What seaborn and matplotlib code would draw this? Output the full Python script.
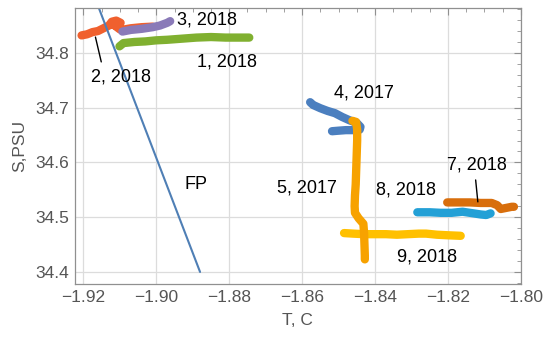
"""
plot.py - T-S diagram of drifting buoy tracks with freezing point line.
"""

import numpy as np
import matplotlib
matplotlib.use("Agg")
import matplotlib.pyplot as plt
from matplotlib.ticker import MultipleLocator
import seaborn as sns

# ---- data (T in C, S in PSU) ----
t_1 = [-1.9101, -1.9090, -1.9060, -1.9030, -1.9000, -1.8970, -1.8930, -1.8890,
       -1.8850, -1.8810, -1.8775, -1.8745]
s_1 = [34.812, 34.818, 34.820, 34.821, 34.823, 34.824, 34.826, 34.828,
       34.829, 34.828, 34.828, 34.828]

t_2 = [-1.9205, -1.9190, -1.9175, -1.9160, -1.9145, -1.9130, -1.9122, -1.9110,
       -1.9098, -1.9105, -1.9118, -1.9100, -1.9095, -1.9070, -1.9040, -1.9010]
s_2 = [34.832, 34.834, 34.838, 34.840, 34.845, 34.850, 34.857, 34.859,
       34.855, 34.848, 34.852, 34.843, 34.842, 34.845, 34.847, 34.848]

t_3 = [-1.9093, -1.9070, -1.9040, -1.9010, -1.8990, -1.8970, -1.8962]
s_3 = [34.839, 34.842, 34.844, 34.847, 34.850, 34.855, 34.858]

t_4 = [-1.8578, -1.8570, -1.8550, -1.8530, -1.8510, -1.8490, -1.8470, -1.8450,
       -1.8440, -1.8442, -1.8460, -1.8480, -1.8500, -1.8518]
s_4 = [34.710, 34.705, 34.699, 34.694, 34.690, 34.683, 34.677, 34.672,
       34.665, 34.660, 34.659, 34.659, 34.658, 34.657]

t_5 = [-1.8462, -1.8452, -1.8449, -1.8449, -1.8450, -1.8451, -1.8452, -1.8453,
       -1.8455, -1.8456, -1.8455, -1.8445, -1.8432, -1.8430, -1.8429, -1.8428,
       -1.8428]
s_5 = [34.676, 34.674, 34.660, 34.640, 34.620, 34.600, 34.580, 34.560,
       34.540, 34.520, 34.508, 34.498, 34.488, 34.470, 34.450, 34.430, 34.423]

t_7 = [-1.8202, -1.8170, -1.8140, -1.8110, -1.8080, -1.8065, -1.8055, -1.8040,
       -1.8025, -1.8019]
s_7 = [34.527, 34.527, 34.527, 34.526, 34.526, 34.522, 34.515, 34.517,
       34.519, 34.519]

t_8 = [-1.8284, -1.8250, -1.8220, -1.8190, -1.8160, -1.8130, -1.8110, -1.8095,
       -1.8083]
s_8 = [34.509, 34.509, 34.508, 34.508, 34.510, 34.507, 34.505, 34.504, 34.507]

t_9 = [-1.8485, -1.8460, -1.8430, -1.8400, -1.8370, -1.8340, -1.8310, -1.8280,
       -1.8260, -1.8230, -1.8200, -1.8165]
s_9 = [34.471, 34.470, 34.469, 34.469, 34.469, 34.468, 34.469, 34.470,
       34.470, 34.468, 34.467, 34.466]

# freezing point line
t_fp = [-1.8880, -1.9168]
s_fp = [34.40, 34.90]

# drawing order follows the reference overlap
tracks = [
    ("1, 2018", t_1, s_1, "#80B030"),
    ("2, 2018", t_2, s_2, "#F0602E"),
    ("3, 2018", t_3, s_3, "#8A7AB8"),
    ("4, 2017", t_4, s_4, "#4B7FBF"),
    ("9, 2018", t_9, s_9, "#FFC000"),
    ("5, 2017", t_5, s_5, "#F7A200"),
    ("7, 2018", t_7, s_7, "#D86E0C"),
    ("8, 2018", t_8, s_8, "#23A0D6"),
]

sns.set_style("white")
plt.rcParams["font.family"] = ["Liberation Sans", "DejaVu Sans"]

fig = plt.figure(figsize=(5.5, 3.44), dpi=100)
ax = fig.add_axes([0.1364, 0.1744, 0.8106, 0.8023])

for name, t, s, col in tracks:
    sns.lineplot(x=t, y=s, sort=False, estimator=None, color=col, lw=6,
                 solid_capstyle="round", solid_joinstyle="round", ax=ax)

sns.lineplot(x=t_fp, y=s_fp, sort=False, estimator=None, color="#4F7FB5",
             lw=1.5, ax=ax)

# labels
lab_kw = dict(fontsize=13, color="black", ha="center", va="center")
ax.text(-1.8860, 34.860, "3, 2018", **lab_kw)
ax.text(-1.8805, 34.7836, "1, 2018", **lab_kw)
ax.text(-1.9096, 34.756, "2, 2018", **lab_kw)
ax.text(-1.8430, 34.727, "4, 2017", **lab_kw)
ax.text(-1.8586, 34.553, "5, 2017", **lab_kw)
ax.text(-1.8315, 34.550, "8, 2018", **lab_kw)
ax.text(-1.8121, 34.595, "7, 2018", **lab_kw)
ax.text(-1.8258, 34.427, "9, 2018", **lab_kw)
ax.text(-1.8890, 34.559, "FP", **lab_kw)

# leader lines
ax.plot([-1.9167, -1.9151], [34.829, 34.7836], color="black", lw=1)
ax.plot([-1.8124, -1.8118], [34.568, 34.528], color="black", lw=1)

ax.set_xlim(-1.9223, -1.80)
ax.set_ylim(34.378, 34.882)
ax.xaxis.set_major_locator(MultipleLocator(0.02))
ax.xaxis.set_minor_locator(MultipleLocator(0.005))
ax.yaxis.set_major_locator(MultipleLocator(0.1))
ax.yaxis.set_minor_locator(MultipleLocator(0.02))
ax.xaxis.set_major_formatter(plt.FuncFormatter(lambda v, p: f"{v:.2f}".replace("-", "\u2212")))
ax.yaxis.set_major_formatter(plt.FuncFormatter(lambda v, p: f"{v:.1f}"))

ax.grid(True, which="major", color="#DCDCDC", lw=0.9)
ax.set_axisbelow(True)
for sp in ax.spines.values():
    sp.set_color("#909090")
    sp.set_linewidth(0.9)
ax.tick_params(which="both", direction="in", top=True, right=True,
               color="#909090", labelcolor="#555555", labelsize=12.5)
ax.tick_params(which="major", length=5, width=0.8, pad=4)
ax.tick_params(which="minor", length=3, width=0.6)

ax.set_xlabel("T, C", fontsize=12.5, color="#555555", labelpad=6)
ax.set_ylabel("S,PSU", fontsize=12.5, color="#555555", labelpad=6)

fig.savefig("out.png", dpi=100)
plt.close(fig)
